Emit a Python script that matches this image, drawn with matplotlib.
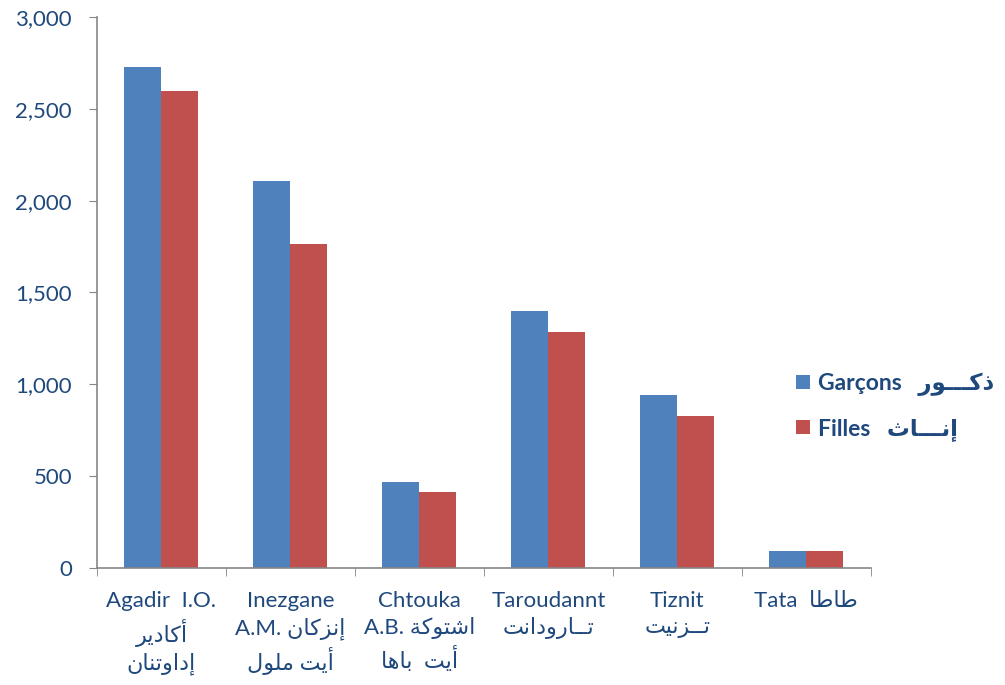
import matplotlib
matplotlib.use("Agg")
import matplotlib.pyplot as plt
from matplotlib.ticker import FuncFormatter, MultipleLocator, FixedLocator
import numpy as np

# values
provinces_latin = ["Agadir  I.O.", "Inezgane", "Chtouka", "Taroudannt", "Tiznit", "Tata"]
garcons = [2727, 2107, 466, 1400, 940, 92]
filles = [2597, 1764, 412, 1285, 827, 92]

# Arabic forms: isolated, final, initial, medial
FORMS = {
    "\u0627": ("\uFE8D", "\uFE8E", None, None),
    "\u0623": ("\uFE83", "\uFE84", None, None),
    "\u0625": ("\uFE87", "\uFE88", None, None),
    "\u0628": ("\uFE8F", "\uFE90", "\uFE91", "\uFE92"),
    "\u062A": ("\uFE95", "\uFE96", "\uFE97", "\uFE98"),
    "\u062B": ("\uFE99", "\uFE9A", "\uFE9B", "\uFE9C"),
    "\u062F": ("\uFEA9", "\uFEAA", None, None),
    "\u0630": ("\uFEAB", "\uFEAC", None, None),
    "\u0631": ("\uFEAD", "\uFEAE", None, None),
    "\u0632": ("\uFEAF", "\uFEB0", None, None),
    "\u0634": ("\uFEB5", "\uFEB6", "\uFEB7", "\uFEB8"),
    "\u0637": ("\uFEC1", "\uFEC2", "\uFEC3", "\uFEC4"),
    "\u0643": ("\uFED9", "\uFEDA", "\uFEDB", "\uFEDC"),
    "\u0644": ("\uFEDD", "\uFEDE", "\uFEDF", "\uFEE0"),
    "\u0645": ("\uFEE1", "\uFEE2", "\uFEE3", "\uFEE4"),
    "\u0646": ("\uFEE5", "\uFEE6", "\uFEE7", "\uFEE8"),
    "\u0647": ("\uFEE9", "\uFEEA", "\uFEEB", "\uFEEC"),
    "\u0648": ("\uFEED", "\uFEEE", None, None),
    "\u064A": ("\uFEF1", "\uFEF2", "\uFEF3", "\uFEF4"),
    "\u0629": ("\uFE93", "\uFE94", None, None),
}
TATWEEL = "\u0640"


def joins_forward(ch):
    if ch == TATWEEL:
        return True
    return ch in FORMS and FORMS[ch][2] is not None


def is_arabic(ch):
    return ch in FORMS or ch == TATWEEL


def ar(text):
    """Shape an Arabic string and return it in visual (left-to-right) order."""
    words = []
    for word in text.split(" "):
        out = []
        for i, ch in enumerate(word):
            if ch not in FORMS:
                out.append(ch)
                continue
            prev_join = i > 0 and joins_forward(word[i - 1])
            next_join = joins_forward(ch) and i + 1 < len(word) and is_arabic(word[i + 1])
            iso, fin, ini, med = FORMS[ch]
            if prev_join and next_join:
                out.append(med)
            elif prev_join:
                out.append(fin)
            elif next_join:
                out.append(ini)
            else:
                out.append(iso)
        words.append("".join(out)[::-1])
    return " ".join(words[::-1])


tick_labels = [
    "Agadir  I.O.\n" + ar("أكادير") + "\n" + ar("إداوتنان"),
    "Inezgane\nA.M. " + ar("إنزكان") + "\n" + ar("أيت ملول"),
    "Chtouka\nA.B. " + ar("اشتوكة") + "\n" + ar("أيت  باها"),
    "Taroudannt\n" + ar("تــارودانت"),
    "Tiznit\n" + ar("تــزنيت"),
    "Tata  " + ar("طاطا"),
]
legend_labels = ["Garçons   " + ar("ذكـــور"), "Filles   " + ar("إنـــاث")]

plt.rcParams["font.family"] = ["Lato", "DejaVu Sans"]

text_color = "#1F497D"
axis_color = "#868686"

fig = plt.figure(figsize=(10.05, 6.85), dpi=100)
ax = fig.add_axes([0.0965, 0.171, 0.77, 0.804])

x = np.arange(len(garcons))
width = 0.287
b1 = ax.bar(x - width / 2, garcons, width, color="#4F81BD", label=legend_labels[0])
b2 = ax.bar(x + width / 2, filles, width, color="#C0504D", label=legend_labels[1])

ax.set_xlim(-0.5, len(garcons) - 0.5)
ax.set_ylim(0, 3000)
ax.yaxis.set_major_locator(MultipleLocator(500))
ax.yaxis.set_major_formatter(FuncFormatter(lambda v, p: f"{int(v):,}"))

ax.set_xticks(x)
ax.set_xticklabels(tick_labels, linespacing=1.32)
ax.xaxis.set_minor_locator(FixedLocator(np.arange(-0.5, len(garcons), 1.0)))
ax.tick_params(axis="x", which="major", length=0, pad=17, labelsize=16, labelcolor=text_color)
ax.tick_params(axis="x", which="minor", length=6, color=axis_color, direction="out")
ax.tick_params(axis="y", length=6, color=axis_color, labelsize=16, labelcolor=text_color, pad=12)

for side in ("top", "right"):
    ax.spines[side].set_visible(False)
for side in ("left", "bottom"):
    ax.spines[side].set_color(axis_color)
    ax.spines[side].set_linewidth(1.2)

leg = fig.legend(
    handles=[b1, b2],
    labels=legend_labels,
    loc="center left",
    bbox_to_anchor=(0.792, 0.406),
    frameon=False,
    borderpad=0,
    borderaxespad=0,
    handlelength=0.6,
    handleheight=0.6,
    handletextpad=0.35,
    labelspacing=0.95,
    prop={"weight": "bold", "size": 16.5},
)
for t in leg.get_texts():
    t.set_color(text_color)

fig.savefig("out.png", dpi=100)
